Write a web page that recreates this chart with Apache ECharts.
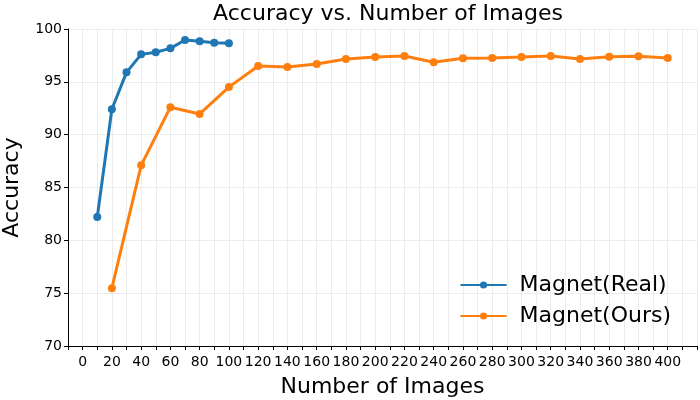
<!DOCTYPE html>
<html>
<head>
<meta charset="utf-8">
<script src="https://cdn.jsdelivr.net/npm/echarts@6/dist/echarts.min.js"></script>
<style>
  html, body { margin: 0; padding: 0; background: #fff; }
  #chart { width: 700px; height: 400px; }
</style>
</head>
<body>
<div id="chart"></div>
<script>
const REAL_COLOR = "#1f77b4";
const OURS_COLOR = "#ff7f0e";

// Magnet(Real)
const realImages = [10, 20, 30, 40, 50, 60, 70, 80, 90, 100];
const realAccuracy = [82.2, 92.4, 95.9, 97.6, 97.8, 98.17, 98.96, 98.85, 98.7, 98.65];

// Magnet(Ours)
const oursImages = [20, 40, 60, 80, 100, 120, 140, 160, 180, 200, 220, 240, 260, 280, 300, 320, 340, 360, 380, 400];
const oursAccuracy = [75.47, 87.1, 92.6, 91.96, 94.5, 96.5, 96.4, 96.69, 97.16, 97.35, 97.45, 96.85, 97.24, 97.26, 97.35, 97.45, 97.16, 97.38, 97.41, 97.26];

const pairUp = (xs, ys) => xs.map((x, i) => [x, ys[i]]);

const FONT = "DejaVu Sans";
const chart = echarts.init(document.getElementById("chart"));

const option = {
  animation: false,
  title: {
    text: "Accuracy vs. Number of Images",
    left: 383,
    top: -2,
    textAlign: "center",
    textStyle: { fontFamily: FONT, fontSize: 22, fontWeight: "normal", color: "#000" },
  },
  legend: {
    orient: "vertical",
    right: 24,
    bottom: 68,
    itemWidth: 46,
    itemHeight: 9,
    itemGap: 9,
    textStyle: { fontFamily: FONT, fontSize: 22, color: "#000", padding: [0, 0, 0, 8] },
    data: ["Magnet(Real)", "Magnet(Ours)"],
  },
  grid: { left: 68, right: 3, top: 29, bottom: 54, containLabel: false, outerBoundsMode: "none" },
  xAxis: {
    type: "value",
    min: -10,
    max: 420,
    interval: 10,
    name: "Number of Images",
    nameLocation: "middle",
    nameGap: 30,
    nameTextStyle: { fontFamily: FONT, fontSize: 22, color: "#000" },
    axisLine: { onZero: false, lineStyle: { color: "#000", width: 1 } },
    axisTick: { length: 4, lineStyle: { color: "#000" } },
    axisLabel: {
      fontFamily: FONT,
      fontSize: 14,
      color: "#000",
      margin: 9,
      formatter: (v) => (v >= 0 && v <= 400 && v % 20 === 0 ? String(v) : ""),
    },
    splitLine: { show: true, lineStyle: { color: "#e8e8e8", width: 0.8 } },
  },
  yAxis: {
    type: "value",
    min: 70,
    max: 100,
    interval: 5,
    name: "Accuracy",
    nameLocation: "middle",
    nameGap: 45,
    nameRotate: 90,
    nameTextStyle: { fontFamily: FONT, fontSize: 22, color: "#000" },
    axisLine: { show: true, onZero: false, lineStyle: { color: "#000", width: 1 } },
    axisTick: { show: true, length: 4, lineStyle: { color: "#000" } },
    axisLabel: { fontFamily: FONT, fontSize: 14, color: "#000", margin: 6 },
    splitLine: { show: true, lineStyle: { color: "#e8e8e8", width: 0.8 } },
  },
  series: [
    {
      name: "Magnet(Real)",
      type: "line",
      data: pairUp(realImages, realAccuracy),
      symbol: "circle",
      symbolSize: 8,
      itemStyle: { color: REAL_COLOR },
      lineStyle: { color: REAL_COLOR, width: 3 },
    },
    {
      name: "Magnet(Ours)",
      type: "line",
      data: pairUp(oursImages, oursAccuracy),
      symbol: "circle",
      symbolSize: 8,
      itemStyle: { color: OURS_COLOR },
      lineStyle: { color: OURS_COLOR, width: 3 },
    },
  ],
};

chart.setOption(option);
</script>
</body>
</html>
